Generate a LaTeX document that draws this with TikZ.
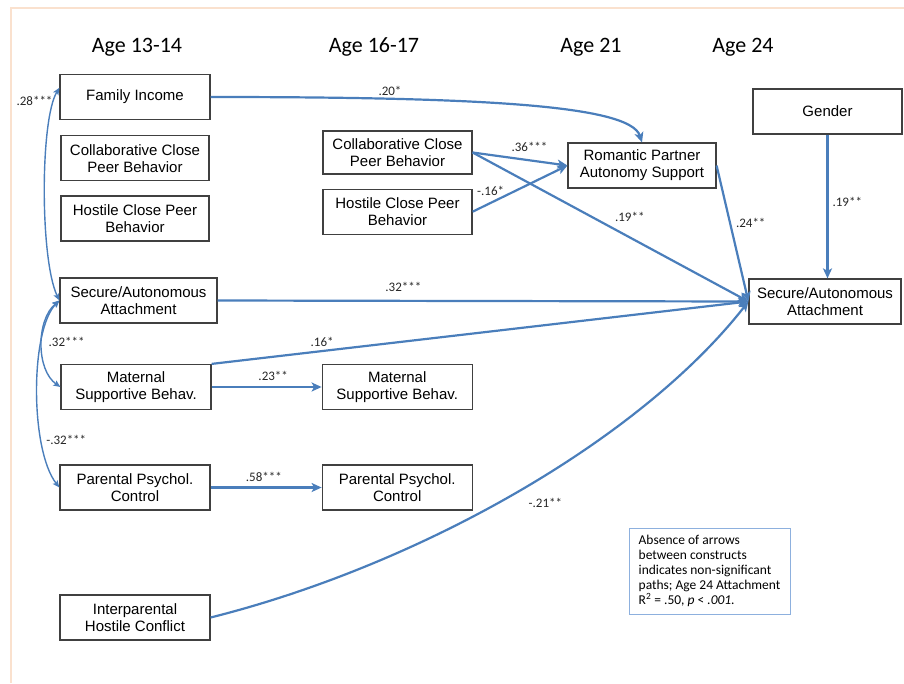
\documentclass[tikz,border=0pt]{standalone}
\usepackage{fontspec}
\setmainfont{Liberation Sans}
\newfontfamily\calibfont{Carlito}
\usepackage{xcolor}
\usepackage{tikz}
\usetikzlibrary{arrows.meta,positioning,calc}
\definecolor{pathblue}{RGB}{74,126,187}
\definecolor{framepeach}{RGB}{250,225,206}
\definecolor{noteblue}{RGB}{141,176,222}

\begin{document}
\begin{tikzpicture}[
    x=1pt, y=-1pt,
    var/.style={draw=black!75, line width=1.2pt, fill=white, align=center,
                font=\fontsize{15}{17}\selectfont, inner sep=2pt,
                minimum width=#1, minimum height=45pt},
    var/.default=150pt,
    age/.style={font=\calibfont\fontsize{22}{24}\selectfont},
    lbl/.style={font=\calibfont\fontsize{13}{14}\selectfont, inner sep=1pt,
                text=black!85},
    arr/.style={-{Stealth[length=10pt, width=9pt, inset=2.5pt]},
                line width=2.2pt, color=pathblue},
    corr/.style={{Stealth[length=7pt, width=6pt, inset=1.5pt]}-{Stealth[length=7pt, width=6pt, inset=1.5pt]},
                 line width=1.4pt, color=pathblue},
    note/.style={draw=noteblue, line width=1pt, align=left,
                 font=\calibfont\fontsize{13.5}{15}\selectfont,
                 inner xsep=6pt, minimum width=161pt, minimum height=86pt},
  ]
  \useasboundingbox (0,0) rectangle (904,683);
  \draw[framepeach, line width=1.5pt] (11,683) -- (11,8) -- (904,8);

  % wave headings
  \node[age] (h1314) at (137,47) {Age 13-14};
  \node[age] (h1617) at (374,47) {Age 16-17};
  \node[age] (h21)   at (591,47) {Age 21};
  \node[age] (h24)   at (743,47) {Age 24};

  % age 13-14 constructs
  \node[var] (fam) at (135,97) {Family Income};
  \node[var=148pt, below=15pt of fam] (col13) {Collaborative Close\\Peer Behavior};
  \node[var=148pt, below=14pt of col13] (hos13) {Hostile Close Peer\\Behavior};
  \node[var=157pt] (sec13) at (138.5,300.5) {Secure/Autonomous\\Attachment};
  \node[var] (mat13) at (136,387) {Maternal\\Supportive Behav.};
  \node[var] (par13) at (135,487.5) {Parental Psychol.\\Control};
  \node[var] (int13) at (135,617.5) {Interparental\\Hostile Conflict};

  % age 16-17 constructs
  \node[var=149pt, minimum height=43pt] (col16) at (397.5,152.5)
    {Collaborative Close\\Peer Behavior};
  \node[var=149pt, below=14pt of col16] (hos16) {Hostile Close Peer\\Behavior};
  \node[var, right=110pt of mat13] (mat16) {Maternal\\Supportive Behav.};
  \node[var, right=111pt of par13] (par16) {Parental Psychol.\\Control};

  % age 21 and age 24
  \node[var=148pt] (rom21) at (642,165.5) {Romantic Partner\\Autonomy Support};
  \node[var=149pt] (gen24) at (827.5,111.5) {Gender};
  \node[var=152pt] (sec24) at (825,301.5) {Secure/Autonomous\\Attachment};

  \node[note] (note) at (709.5,571)
    {Absence of arrows\\between constructs\\indicates non-significant\\
     paths; Age 24 Attachment\\R\textsuperscript{2} = .50, \textit{p} < \textit{.001.}};

  % correlations at age 13-14
  \draw[corr] (sec13.west) .. controls (40,260) and (40,120) ..
    node[lbl, pos=0.9, left=0pt] {.28***} ($(fam.north west)!0.3!(fam.south west)$);
  \draw[corr] (sec13.west) .. controls (36,320) and (36,370) ..
    node[lbl, pos=0.47, right=5pt] {.32***} (mat13.west);
  \draw[corr] (sec13.west) .. controls (30,330) and (30,450) ..
    node[lbl, pos=0.72, right=3pt] {-.32***} (par13.west);

  % paths to romantic partner support
  \draw[arr] (fam.east) .. controls (480,97) and (630,105) ..
    node[lbl, pos=0.25, above=1.5pt] {.20*} (rom21.north);
  \draw[arr] (col16.east) -- node[lbl, pos=0.6, above=7pt] {.36***} (rom21.west);
  \draw[arr] (hos16.east) -- node[lbl, pos=0.19, above=5pt] {-.16*} (rom21.west);

  % paths to age 24 attachment
  \draw[arr] (col16.east) -- node[lbl, pos=0.57, above=14pt] {.19**} (sec24.west);
  \draw[arr] (rom21.east) -- node[lbl, pos=0.42, right=4pt] {.24**} (sec24.west);
  \draw[arr] (gen24.south) -- node[lbl, pos=0.47, right=3pt] {.19**}
    (gen24.south |- sec24.north);
  \draw[arr] (sec13.east) -- node[lbl, pos=0.35, above=7.5pt] {.32***} (sec24.west);
  \draw[arr] (mat13.north east) -- node[lbl, pos=0.206, above=2pt] {.16*} (sec24.west);
  \draw[arr] (int13.east) .. controls (420,565) and (640,440) ..
    node[lbl, pos=0.55, below=21pt] {-.21**} (sec24.west);

  % stability paths
  \draw[arr] (mat13.east) -- node[lbl, pos=0.56, above=4pt] {.23**} (mat16.west);
  \draw[arr] (par13.east) -- node[lbl, pos=0.48, above=4pt] {.58***} (par16.west);
\end{tikzpicture}
\end{document}
